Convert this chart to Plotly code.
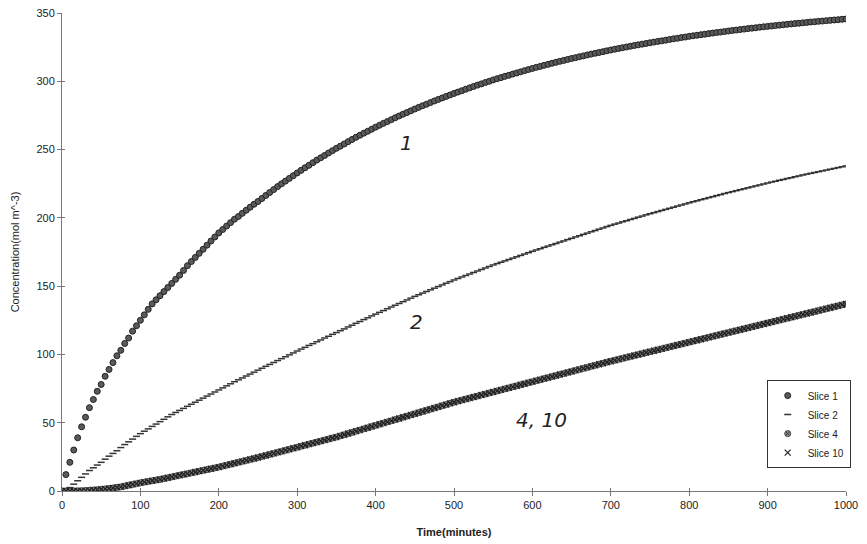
import plotly.graph_objects as go

time_min = [
    0, 5, 10, 15, 20, 25, 30, 35, 40, 45, 50, 55, 60, 65, 70, 75, 80, 85, 90, 95,
    100, 105, 110, 115, 120, 125, 130, 135, 140, 145, 150, 155, 160, 165, 170, 175, 180, 185, 190, 195,
    200, 205, 210, 215, 220, 225, 230, 235, 240, 245, 250, 255, 260, 265, 270, 275, 280, 285, 290, 295,
    300, 305, 310, 315, 320, 325, 330, 335, 340, 345, 350, 355, 360, 365, 370, 375, 380, 385, 390, 395,
    400, 405, 410, 415, 420, 425, 430, 435, 440, 445, 450, 455, 460, 465, 470, 475, 480, 485, 490, 495,
    500, 505, 510, 515, 520, 525, 530, 535, 540, 545, 550, 555, 560, 565, 570, 575, 580, 585, 590, 595,
    600, 605, 610, 615, 620, 625, 630, 635, 640, 645, 650, 655, 660, 665, 670, 675, 680, 685, 690, 695,
    700, 705, 710, 715, 720, 725, 730, 735, 740, 745, 750, 755, 760, 765, 770, 775, 780, 785, 790, 795,
    800, 805, 810, 815, 820, 825, 830, 835, 840, 845, 850, 855, 860, 865, 870, 875, 880, 885, 890, 895,
    900, 905, 910, 915, 920, 925, 930, 935, 940, 945, 950, 955, 960, 965, 970, 975, 980, 985, 990, 995,
    1000,
]

slice_1 = [
    0, 12, 21, 30, 39, 47, 54, 61, 67, 73, 78, 84, 89, 94, 99, 103, 108, 112, 117, 121,
    125, 129, 133, 137, 140, 143, 146, 149, 152, 155, 158, 161.5, 165, 168, 171, 174, 177, 180, 183, 186,
    189, 191.5, 194, 196.5, 199, 201, 203.3, 205.6, 207.8, 210, 212.0, 214.2, 216.4, 218.6, 220.7, 222.9, 224.9, 226.9, 228.9, 230.9,
    232.9, 234.8, 236.7, 238.5, 240.4, 242.3, 244.0, 245.7, 247.5, 249.2, 250.9, 252.5, 254.1, 255.8, 257.4, 259.0, 260.5, 262.0, 263.4, 264.9,
    266.4, 267.8, 269.2, 270.5, 271.9, 273.3, 274.6, 275.9, 277.1, 278.4, 279.7, 280.9, 282.1, 283.2, 284.4, 285.6, 286.7, 287.8, 288.9, 290.0,
    291.1, 292.1, 293.1, 294.2, 295.2, 296.2, 297.2, 298.1, 299.1, 300.0, 301.0, 301.9, 302.7, 303.6, 304.4, 305.3, 306.1, 306.9, 307.8, 308.6,
    309.4, 310.2, 310.9, 311.7, 312.4, 313.2, 313.9, 314.6, 315.3, 316.0, 316.7, 317.3, 318.0, 318.6, 319.3, 319.9, 320.5, 321.1, 321.7, 322.3,
    322.9, 323.5, 324.0, 324.6, 325.1, 325.7, 326.2, 326.7, 327.2, 327.7, 328.2, 328.7, 329.2, 329.6, 330.1, 330.6, 331.1, 331.5, 332.0, 332.4,
    332.9, 333.3, 333.7, 334.1, 334.5, 334.9, 335.3, 335.7, 336.0, 336.4, 336.8, 337.2, 337.5, 337.9, 338.2, 338.6, 338.9, 339.2, 339.6, 339.9,
    340.2, 340.5, 340.8, 341.1, 341.4, 341.7, 342.0, 342.3, 342.5, 342.8, 343.1, 343.4, 343.6, 343.9, 344.1, 344.4, 344.6, 344.9, 345.1, 345.4,
    345.6,
]

slice_2 = [
    0, 0.5, 2.5, 5, 7.5, 10, 12.5, 15, 17, 19, 21, 23.3, 25.5, 27.5, 29.5, 31.8, 34, 36, 38, 40,
    42, 43.8, 45.5, 47.3, 49, 50.8, 52.5, 54.3, 56, 57.5, 59, 60.5, 62, 63.5, 65, 66.5, 68, 69.5, 71, 72.5,
    74, 75.5, 77, 78.5, 80, 81.4, 82.8, 84.2, 85.6, 87, 88.5, 89.9, 91.3, 92.7, 94.1, 95.5, 96.9, 98.3, 99.7, 101.1,
    102.5, 103.9, 105.2, 106.6, 107.9, 109.3, 110.6, 112.0, 113.3, 114.7, 116.0, 117.4, 118.7, 120.1, 121.4, 122.8, 124.1, 125.5, 126.8, 128.2,
    129.5, 130.8, 132.1, 133.4, 134.7, 136.0, 137.3, 138.6, 139.9, 141.2, 142.5, 143.7, 144.9, 146.1, 147.3, 148.5, 149.7, 150.9, 152.1, 153.3,
    154.5, 155.6, 156.7, 157.8, 158.9, 160.0, 161.1, 162.2, 163.3, 164.4, 165.5, 166.5, 167.5, 168.5, 169.5, 170.5, 171.5, 172.5, 173.5, 174.5,
    175.5, 176.5, 177.4, 178.4, 179.3, 180.3, 181.2, 182.2, 183.1, 184.1, 185.0, 186.0, 186.9, 187.9, 188.8, 189.8, 190.7, 191.7, 192.6, 193.6,
    194.5, 195.4, 196.2, 197.1, 197.9, 198.8, 199.6, 200.5, 201.3, 202.2, 203.0, 203.8, 204.6, 205.4, 206.2, 207.0, 207.8, 208.6, 209.4, 210.2,
    211.0, 211.8, 212.5, 213.3, 214.0, 214.8, 215.5, 216.3, 217.0, 217.8, 218.5, 219.2, 219.9, 220.6, 221.3, 222.0, 222.7, 223.4, 224.1, 224.8,
    225.5, 226.2, 226.8, 227.5, 228.1, 228.8, 229.4, 230.1, 230.7, 231.4, 232.0, 232.6, 233.2, 233.8, 234.4, 235.0, 235.6, 236.2, 236.8, 237.4,
    238.0,
]

slice_4 = [
    0, 0, 0, 0.1, 0.1, 0.2, 0.3, 0.5, 0.7, 0.9, 1.2, 1.5, 1.8, 2.2, 2.6, 3.0, 3.6, 4.2, 4.8, 5.4,
    6.0, 6.5, 7.0, 7.5, 8.0, 8.5, 9.1, 9.7, 10.3, 10.9, 11.5, 12.1, 12.7, 13.3, 13.9, 14.5, 15.1, 15.7, 16.3, 16.9,
    17.5, 18.2, 18.9, 19.6, 20.3, 21.0, 21.7, 22.4, 23.1, 23.8, 24.5, 25.3, 26.0, 26.8, 27.5, 28.3, 29.0, 29.8, 30.5, 31.3,
    32.0, 32.8, 33.5, 34.3, 35.0, 35.8, 36.5, 37.3, 38.0, 38.8, 39.5, 40.4, 41.2, 42.1, 42.9, 43.8, 44.6, 45.5, 46.3, 47.2,
    48.0, 48.9, 49.7, 50.6, 51.4, 52.3, 53.1, 54.0, 54.8, 55.7, 56.5, 57.4, 58.2, 59.1, 59.9, 60.8, 61.6, 62.5, 63.3, 64.2,
    65.0, 65.8, 66.5, 67.3, 68.0, 68.8, 69.5, 70.3, 71.0, 71.8, 72.5, 73.3, 74.0, 74.8, 75.5, 76.3, 77.0, 77.8, 78.5, 79.3,
    80.0, 80.8, 81.5, 82.3, 83.0, 83.8, 84.5, 85.3, 86.0, 86.8, 87.5, 88.3, 89.0, 89.8, 90.5, 91.3, 92.0, 92.8, 93.5, 94.3,
    95.0, 95.7, 96.4, 97.1, 97.8, 98.5, 99.2, 99.9, 100.6, 101.3, 102.0, 102.7, 103.4, 104.1, 104.8, 105.5, 106.2, 106.9, 107.6, 108.3,
    109.0, 109.7, 110.4, 111.1, 111.8, 112.5, 113.2, 113.9, 114.6, 115.3, 116.0, 116.7, 117.4, 118.1, 118.8, 119.5, 120.2, 120.9, 121.6, 122.3,
    123.0, 123.7, 124.4, 125.1, 125.8, 126.5, 127.2, 127.9, 128.6, 129.3, 130.0, 130.7, 131.4, 132.1, 132.8, 133.5, 134.2, 134.9, 135.6, 136.3,
    137.0,
]

slice_10 = [
    0, 0, 0, 0.1, 0.1, 0.2, 0.3, 0.5, 0.7, 0.9, 1.2, 1.5, 1.8, 2.2, 2.6, 3.0, 3.6, 4.2, 4.8, 5.4,
    6.0, 6.5, 7.0, 7.5, 8.0, 8.5, 9.1, 9.7, 10.3, 10.9, 11.5, 12.1, 12.7, 13.3, 13.9, 14.5, 15.1, 15.7, 16.3, 16.9,
    17.5, 18.2, 18.9, 19.6, 20.3, 21.0, 21.7, 22.4, 23.1, 23.8, 24.5, 25.3, 26.0, 26.8, 27.5, 28.3, 29.0, 29.8, 30.5, 31.3,
    32.0, 32.8, 33.5, 34.3, 35.0, 35.8, 36.5, 37.3, 38.0, 38.8, 39.5, 40.4, 41.2, 42.1, 42.9, 43.8, 44.6, 45.5, 46.3, 47.2,
    48.0, 48.9, 49.7, 50.6, 51.4, 52.3, 53.1, 54.0, 54.8, 55.7, 56.5, 57.4, 58.2, 59.1, 59.9, 60.8, 61.6, 62.5, 63.3, 64.2,
    65.0, 65.8, 66.5, 67.3, 68.0, 68.8, 69.5, 70.3, 71.0, 71.8, 72.5, 73.3, 74.0, 74.8, 75.5, 76.3, 77.0, 77.8, 78.5, 79.3,
    80.0, 80.8, 81.5, 82.3, 83.0, 83.8, 84.5, 85.3, 86.0, 86.8, 87.5, 88.3, 89.0, 89.8, 90.5, 91.3, 92.0, 92.8, 93.5, 94.3,
    95.0, 95.7, 96.4, 97.1, 97.8, 98.5, 99.2, 99.9, 100.6, 101.3, 102.0, 102.7, 103.4, 104.1, 104.8, 105.5, 106.2, 106.9, 107.6, 108.3,
    109.0, 109.7, 110.4, 111.1, 111.8, 112.5, 113.2, 113.9, 114.6, 115.3, 116.0, 116.7, 117.4, 118.1, 118.8, 119.5, 120.2, 120.9, 121.6, 122.3,
    123.0, 123.7, 124.4, 125.1, 125.8, 126.5, 127.2, 127.9, 128.6, 129.3, 130.0, 130.7, 131.4, 132.1, 132.8, 133.5, 134.2, 134.9, 135.6, 136.3,
    137.0,
]

y_ticks = [0, 50, 100, 150, 200, 250, 300, 350]
x_ticks = [0, 100, 200, 300, 400, 500, 600, 700, 800, 900, 1000]

# handwritten labels: (text, time, concentration)
hand_labels = [("1", 440, 255), ("2", 452, 124), ("4, 10", 612, 52)]

FONT = "Liberation Sans, Arial, sans-serif"
AXIS_GREY = "#777777"

fig = go.Figure()
fig.add_trace(go.Scatter(
    x=time_min, y=slice_1, mode="markers", name="Slice 1",
    marker=dict(symbol="circle", size=6, color="#5a5a5a", line=dict(width=1, color="#222222")),
))
fig.add_trace(go.Scatter(
    x=time_min, y=slice_2, mode="markers", name="Slice 2",
    marker=dict(symbol="line-ew", size=5, color="#333333", line=dict(width=1.5, color="#333333")),
))
fig.add_trace(go.Scatter(
    x=time_min, y=slice_4, mode="markers", name="Slice 4",
    marker=dict(symbol="circle-x", size=6, color="#8a8a8a", line=dict(width=1, color="#444444")),
))
fig.add_trace(go.Scatter(
    x=time_min, y=slice_10, mode="markers", name="Slice 10",
    marker=dict(symbol="x-thin", size=6, color="#222222", line=dict(width=1.2, color="#222222")),
))
# empty helper trace so the overlay axes (inner half of the crossing tick marks) are drawn
fig.add_trace(go.Scatter(
    x=[], y=[], xaxis="x2", yaxis="y2", mode="markers",
    showlegend=False, hoverinfo="skip",
))

for txt, tx, ty in hand_labels:
    fig.add_annotation(
        x=tx, y=ty, text="<i>" + txt + "</i>", showarrow=False,
        font=dict(family="DejaVu Sans, sans-serif", size=20, color="#222222"),
        xanchor="center", yanchor="middle",
    )

fig.update_layout(
    width=867, height=544,
    margin=dict(l=62, r=21, t=13, b=53),
    paper_bgcolor="white", plot_bgcolor="white",
    font=dict(family=FONT, size=11, color="#222222"),
    showlegend=True,
    legend=dict(
        x=1.006, xanchor="right", y=0.232, yanchor="top",
        bgcolor="white", bordercolor="#333333", borderwidth=1,
        font=dict(family=FONT, size=10, color="#222222"),
        tracegroupgap=0,
    ),
    xaxis=dict(
        range=[0, 1000], tickvals=x_ticks, ticks="outside", ticklen=4, tickcolor=AXIS_GREY,
        showline=True, linecolor=AXIS_GREY, linewidth=1, showgrid=False, zeroline=False,
        tickfont=dict(family=FONT, size=11, color="#222222"),
        title=dict(text="<b>Time(minutes)</b>", font=dict(family=FONT, size=11, color="#222222"), standoff=18),
        automargin=False, fixedrange=True,
    ),
    yaxis=dict(
        range=[0, 350], tickvals=y_ticks, ticks="outside", ticklen=4, tickcolor=AXIS_GREY,
        showline=True, linecolor=AXIS_GREY, linewidth=1, showgrid=False, zeroline=False,
        tickfont=dict(family=FONT, size=11, color="#222222"),
        title=dict(text="Concentration(mol m^-3)", font=dict(family=FONT, size=11, color="#222222"), standoff=14),
        automargin=False, fixedrange=True,
    ),
    xaxis2=dict(
        overlaying="x", anchor="y2", side="bottom", range=[0, 1000], tickvals=x_ticks,
        ticks="inside", ticklen=3, tickcolor=AXIS_GREY, showticklabels=False,
        showline=False, showgrid=False, zeroline=False, automargin=False, fixedrange=True,
    ),
    yaxis2=dict(
        overlaying="y", anchor="x2", side="left", range=[0, 350], tickvals=y_ticks,
        ticks="inside", ticklen=3, tickcolor=AXIS_GREY, showticklabels=False,
        showline=False, showgrid=False, zeroline=False, automargin=False, fixedrange=True,
    ),
)

fig.write_html(
    "out.html",
    config={"displayModeBar": False},
    post_script="document.body.style.margin='0px';",
)
